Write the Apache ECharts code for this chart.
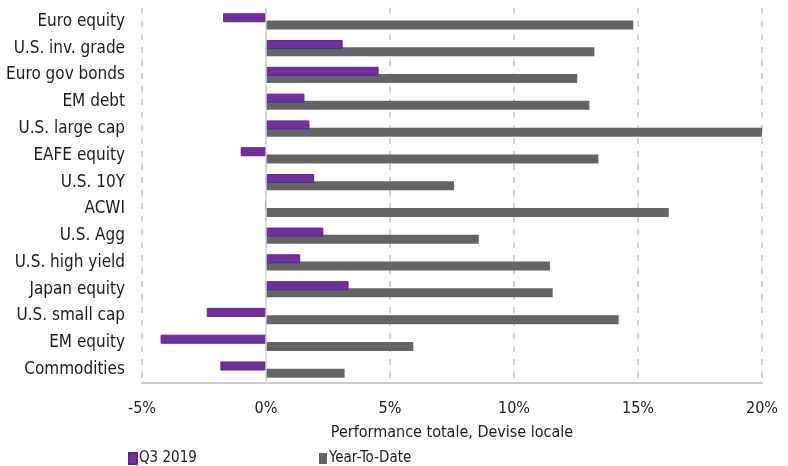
<!DOCTYPE html>
<html>
<head>
<meta charset="utf-8">
<script src="https://cdn.jsdelivr.net/npm/echarts@6/dist/echarts.min.js"></script>
<style>
  html, body { margin: 0; padding: 0; background: #fff; }
  #main { width: 788px; height: 466px; }
</style>
</head>
<body>
<div id="main"></div>
<script>
const categories = ['Euro equity', 'U.S. inv. grade', 'Euro gov bonds', 'EM debt', 'U.S. large cap',
  'EAFE equity', 'U.S. 10Y', 'ACWI', 'U.S. Agg', 'U.S. high yield', 'Japan equity',
  'U.S. small cap', 'EM equity', 'Commodities'];
const q3 = [-1.73, 3.09, 4.54, 1.55, 1.75, -1.02, 1.94, -0.04, 2.31, 1.38, 3.33, -2.39, -4.25, -1.84];
const ytd = [14.81, 13.24, 12.55, 13.04, 20.0, 13.40, 7.58, 16.24, 8.58, 11.45, 11.56, 14.22, 5.94, 3.17];
const xTicks = { min: -5, max: 20, interval: 5 };

const FONT = "'Liberation Sans Narrow', 'DejaVu Sans Condensed', sans-serif";
const chart = echarts.init(document.getElementById('main'));

chart.setOption({
  animation: false,
  textStyle: { fontFamily: FONT },
  grid: { left: 142, right: 26, top: 8, bottom: 83 },
  legend: [
    {
      data: ['Q3 2019'], left: 123, top: 446,
      itemWidth: 8, itemHeight: 11, icon: 'rect',
      textStyle: { fontFamily: FONT, fontSize: 15, color: '#1a1a1a', padding: [0, 0, 0, -3] }
    },
    {
      data: ['Year-To-Date'], left: 314, top: 446,
      itemWidth: 8, itemHeight: 11, icon: 'rect',
      textStyle: { fontFamily: FONT, fontSize: 15, color: '#1a1a1a', padding: [0, 0, 0, -3] }
    }
  ],
  xAxis: {
    type: 'value',
    min: xTicks.min, max: xTicks.max, interval: xTicks.interval,
    name: 'Performance totale, Devise locale',
    nameLocation: 'middle', nameGap: 42,
    nameTextStyle: { fontFamily: FONT, fontSize: 16, color: '#1a1a1a' },
    axisLine: { show: true, lineStyle: { color: '#c9c9c9', width: 2 } },
    axisTick: { show: false },
    axisLabel: { formatter: '{value}%', fontFamily: FONT, fontSize: 16, color: '#1a1a1a', margin: 18 },
    splitLine: { show: true, lineStyle: { color: '#c4c4c4', width: 1.5, type: [6, 7] } }
  },
  yAxis: {
    type: 'category',
    data: categories,
    inverse: true,
    axisLine: { show: false },
    axisTick: { show: false },
    axisLabel: { fontFamily: FONT, fontSize: 17, color: '#1a1a1a', margin: 17 }
  },
  series: [
    {
      name: 'Q3 2019',
      type: 'bar',
      data: q3,
      barWidth: 9,
      barGap: '-20%',
      z: 3,
      itemStyle: { color: '#7030a0', borderColor: '#5a2787', borderWidth: 1 }
    },
    {
      name: 'Year-To-Date',
      type: 'bar',
      data: ytd,
      barWidth: 9,
      z: 2,
      itemStyle: { color: '#626467' },
      markLine: {
        silent: true,
        symbol: 'none',
        label: { show: false },
        lineStyle: { color: '#d4d4d4', width: 1.5, type: 'solid' },
        data: [{ xAxis: 0 }]
      }
    }
  ]
});
</script>
</body>
</html>
